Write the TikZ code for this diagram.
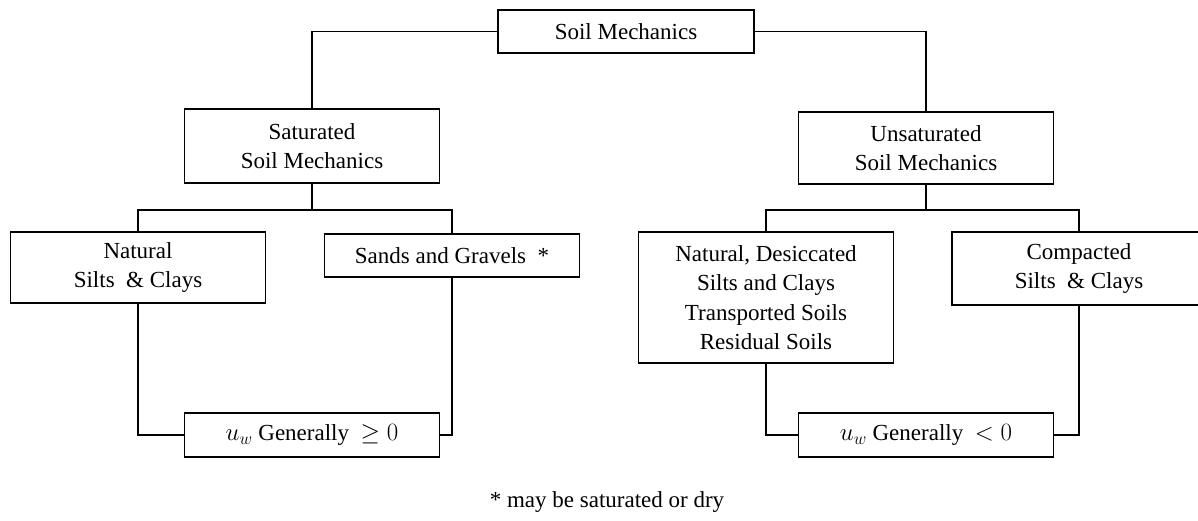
\documentclass[tikz,border=0pt]{standalone}
\usepackage{fontspec}
\setmainfont{Liberation Serif}
\tikzstyle{box} = [draw, rectangle, line width=1.5pt, minimum width=255pt, align=center, inner sep=2pt]
\tikzstyle{link} = [line width=1.5pt]

\begin{document}
\begin{tikzpicture}[x=1pt, y=-1pt, every node/.style={font=\fontsize{23}{29.5}\selectfont}]
\useasboundingbox (0,0) rectangle (1198,520);
% Top level
\node (soil) [box, minimum width=256pt, minimum height=43pt] at (626,31.5) {Soil Mechanics};

% Branches
\node (sat) [box, minimum height=74pt] at (312,146) {Saturated\\Soil Mechanics};
\node (unsat) [box, minimum height=72pt] at (926,148) {Unsaturated\\Soil Mechanics};

% Soil types
\node (nat) [box, minimum height=71pt] at (138,267.5) {Natural\\Silts \ \& Clays};
\node (sand) [box, minimum height=43pt] at (452,255.5) {Sands and Gravels \ *};
\node (desic) [box, minimum height=131pt] at (766,297.5) {Natural, Desiccated\\Silts and Clays\\Transported Soils\\Residual Soils};
\node (comp) [box, minimum width=254pt, minimum height=73pt] at (1079,268.5) {Compacted\\Silts \ \& Clays};

% Pore water pressure
\node (pos) [box, minimum height=44pt] at (312,435) {$u_w$ Generally \ $\geq 0$};
\node (neg) [box, minimum height=44pt] at (926,435) {$u_w$ Generally \ $< 0$};

\node (note) at (607,502) {* may be saturated or dry};

% Connectors
\draw [link] (soil.west) -| (sat.north);
\draw [link] (soil.east) -| (unsat.north);
\draw [link] (sat.south) -- ++(0,26) coordinate (satbus) -| (nat.north);
\draw [link] (satbus) -| (sand.north);
\draw [link] (unsat.south) -- ++(0,25) coordinate (unsatbus) -| (desic.north);
\draw [link] (unsatbus) -| (comp.north);
\draw [link] (nat.south) |- (pos.west);
\draw [link] (sand.south) |- (pos.east);
\draw [link] (desic.south) |- (neg.west);
\draw [link] (comp.south) |- (neg.east);
\end{tikzpicture}
\end{document}
